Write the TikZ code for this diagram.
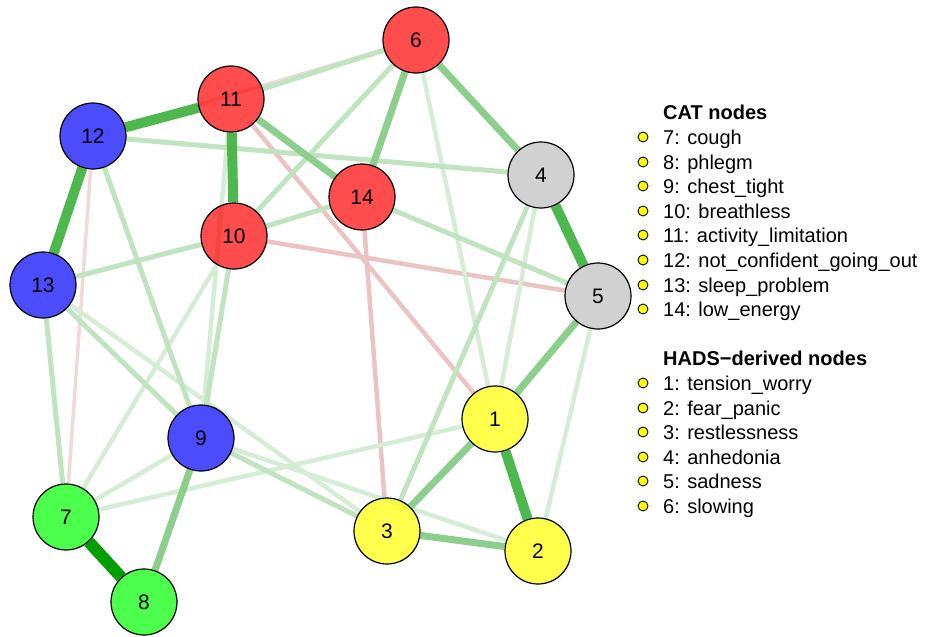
\documentclass[tikz,border=0pt]{standalone}
\usepackage{fontspec}
\setmainfont{Liberation Sans}
\usepackage{xcolor}
\usepackage{tikz}
\definecolor{cred}{HTML}{FF0000}
\definecolor{cblue}{HTML}{0000FF}
\definecolor{cgreen}{HTML}{00FF00}
\definecolor{cyellow}{HTML}{FFFF00}
\definecolor{cgrey}{HTML}{BEBEBE}
\definecolor{etop}{HTML}{009E00}
\definecolor{estrong}{HTML}{4DB84D}
\definecolor{emid}{HTML}{8CCF8C}
\definecolor{elight}{HTML}{BFE4BF}
\definecolor{efaint}{HTML}{D4EDD4}
\definecolor{eneg}{HTML}{EBC3C3}
\definecolor{enegf}{HTML}{F2D9D9}
\pgfdeclarelayer{edges}
\pgfsetlayers{edges,main}
\tikzset{
  vtx/.style={circle, draw=black, line width=1.2pt, minimum size=66pt, inner sep=0pt, fill opacity=0.7, text opacity=1, font=\fontsize{21}{24}\selectfont},
  vred/.style={vtx, fill=cred},
  vblue/.style={vtx, fill=cblue},
  vgreen/.style={vtx, fill=cgreen},
  vyellow/.style={vtx, fill=cyellow},
  vgrey/.style={vtx, fill=cgrey},
  wtop/.style={draw=etop, line width=12pt},
  wstrong/.style={draw=estrong, line width=10pt},
  wmid/.style={draw=emid, line width=7pt},
  wlight/.style={draw=elight, line width=5pt},
  wfaint/.style={draw=efaint, line width=4.5pt},
  wneg/.style={draw=eneg, line width=4.5pt},
  wnegf/.style={draw=enegf, line width=3.5pt},
  ldot/.style={circle, draw=black, fill=cyellow, line width=0.9pt, minimum size=10pt, inner sep=0pt},
  ltxt/.style={anchor=base west, inner sep=0pt, font=\fontsize{20}{24}\selectfont},
  lhead/.style={ltxt, font=\fontsize{20}{24}\selectfont\bfseries},
}
\begin{document}
\begin{tikzpicture}[x=1pt, y=-1pt]
  \useasboundingbox (0,0) rectangle (927,637);

  % HADS-derived nodes
  \node[vyellow] (n1) at (495,419) {1};
  \node[vyellow] (n2) at (538,551) {2};
  \node[vyellow] (n3) at (387,531) {3};
  \node[vgrey]   (n4) at (541,175) {4};
  \node[vgrey]   (n5) at (598,296) {5};
  \node[vred]    (n6) at (416,40)  {6};
  % CAT nodes
  \node[vgreen]  (n7)  at (66,517)  {7};
  \node[vgreen]  (n8)  at (144,602) {8};
  \node[vblue]   (n9)  at (201,438) {9};
  \node[vred]    (n10) at (234,236) {10};
  \node[vred]    (n11) at (231,99)  {11};
  \node[vblue]   (n12) at (93,136)  {12};
  \node[vblue]   (n13) at (43,285)  {13};
  \node[vred]    (n14) at (362,197) {14};

  \begin{pgfonlayer}{edges}
    % negative edges
    \draw[wnegf] (n12) -- (n7);
    \draw[wnegf] (n12) -- (n6);
    \draw[wneg] (n11) -- (n1);
    \draw[wneg] (n14) -- (n3);
    \draw[wneg] (n10) -- (n5);
    % weak positive edges
    \draw[wfaint] (n6) -- (n1);
    \draw[wfaint] (n4) -- (n1);
    \draw[wfaint] (n5) -- (n2);
    \draw[wfaint] (n7) -- (n1);
    \draw[wfaint] (n7) -- (n9);
    \draw[wfaint] (n10) -- (n7);
    \draw[wfaint] (n11) -- (n9);
    \draw[wfaint] (n13) -- (n3);
    \draw[wfaint] (n9) -- (n2);
    \draw[wlight] (n11) -- (n6);
    \draw[wlight] (n6) -- (n10);
    \draw[wlight] (n10) -- (n14);
    \draw[wlight] (n10) -- (n9);
    \draw[wlight] (n13) -- (n10);
    \draw[wlight] (n12) -- (n9);
    \draw[wlight] (n13) -- (n7);
    \draw[wlight] (n13) -- (n9);
    \draw[wlight] (n14) -- (n5);
    \draw[wlight] (n4) -- (n3);
    \draw[wlight] (n9) -- (n3);
    \draw[wlight] (n12) -- (n4);
    % stronger ones on top
    \draw[wmid] (n11) -- (n14);
    \draw[wmid] (n6) -- (n14);
    \draw[wmid] (n6) -- (n4);
    \draw[wmid] (n5) -- (n1);
    \draw[wmid] (n1) -- (n3);
    \draw[wmid] (n9) -- (n8);
    \draw[wmid] (n3) -- (n2);
    \draw[wstrong] (n12) -- (n11);
    \draw[wstrong] (n11) -- (n10);
    \draw[wstrong] (n12) -- (n13);
    \draw[wstrong] (n4) -- (n5);
    \draw[wstrong] (n1) -- (n2);
    \draw[wtop] (n7) -- (n8);
  \end{pgfonlayer}

  % legend
  \node[lhead] (hcat) at (663,119) {CAT nodes};
  \node[ldot] (d7)  at (643,137) {};  \node[ltxt] (t7)  at (663,144) {7: cough};
  \node[ldot] (d8)  at (643,162) {};  \node[ltxt] (t8)  at (663,169) {8: phlegm};
  \node[ldot] (d9)  at (643,186) {};  \node[ltxt] (t9)  at (663,193) {9: chest\_tight};
  \node[ldot] (d10) at (643,211) {};  \node[ltxt] (t10) at (663,218) {10: breathless};
  \node[ldot] (d11) at (643,235) {};  \node[ltxt] (t11) at (663,242) {11: activity\_limitation};
  \node[ldot] (d12) at (643,260) {};  \node[ltxt] (t12) at (663,267) {12: not\_confident\_going\_out};
  \node[ldot] (d13) at (643,285) {};  \node[ltxt] (t13) at (663,292) {13: sleep\_problem};
  \node[ldot] (d14) at (643,309) {};  \node[ltxt] (t14) at (663,316) {14: low\_energy};

  \node[lhead] (hhads) at (663,365) {HADS−derived nodes};
  \node[ldot] (d1) at (643,383) {};  \node[ltxt] (t1) at (663,390) {1: tension\_worry};
  \node[ldot] (d2) at (643,408) {};  \node[ltxt] (t2) at (663,415) {2: fear\_panic};
  \node[ldot] (d3) at (643,432) {};  \node[ltxt] (t3) at (663,439) {3: restlessness};
  \node[ldot] (d4) at (643,457) {};  \node[ltxt] (t4) at (663,464) {4: anhedonia};
  \node[ldot] (d5) at (643,481) {};  \node[ltxt] (t5) at (663,488) {5: sadness};
  \node[ldot] (d6) at (643,506) {};  \node[ltxt] (t6) at (663,513) {6: slowing};
\end{tikzpicture}
\end{document}
